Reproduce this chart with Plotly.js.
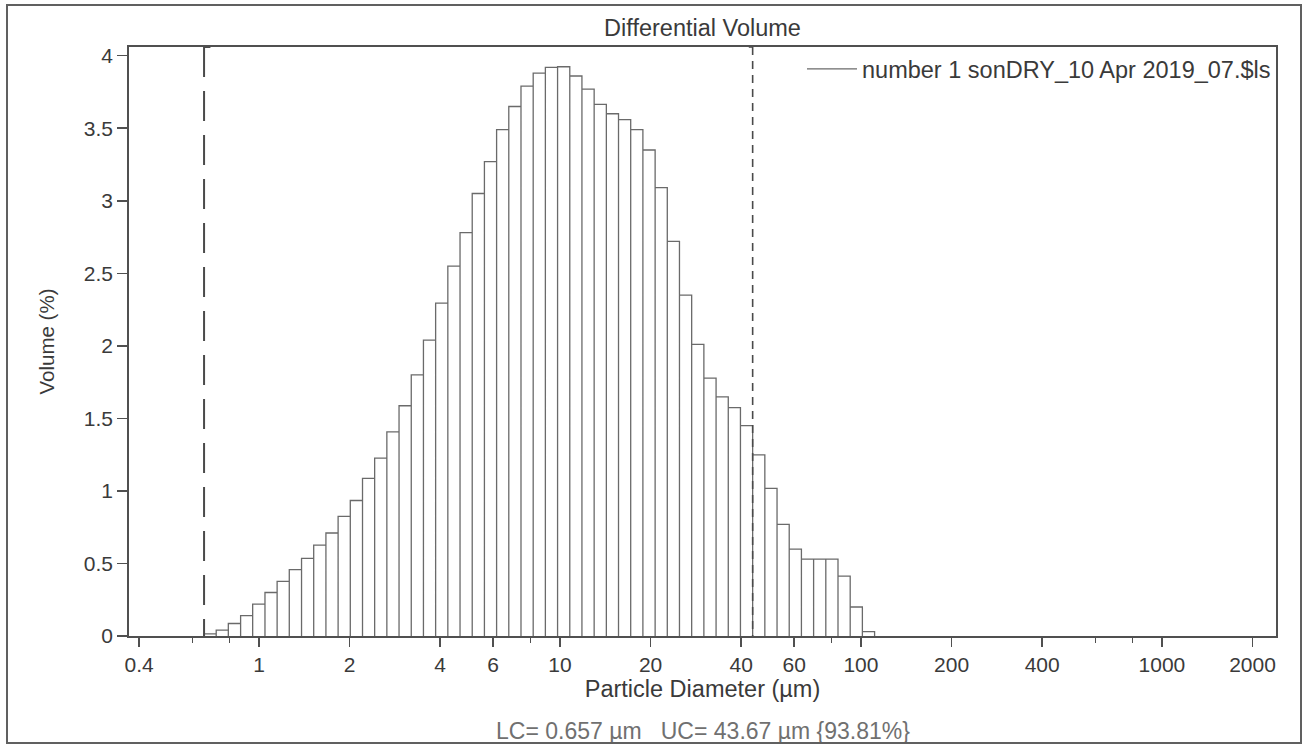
<!DOCTYPE html>
<html>
<head>
<meta charset="utf-8">
<script src="https://cdn.plot.ly/plotly-3.0.1.min.js"></script>
<style>
  html, body { margin: 0; padding: 0; background: #ffffff; }
  #wrap { position: relative; width: 1304px; height: 748px; }
  #chart { position: absolute; left: 0; top: 0; width: 1304px; height: 748px; }
  #frame { position: absolute; left: 6px; top: 4px; width: 1292px; height: 736px;
           border: 2px solid #606060; pointer-events: none; }
</style>
</head>
<body>
<div id="wrap">
  <div id="chart"></div>
  <div id="frame"></div>
</div>
<script>
// Channel edges (µm) of the particle size analyser, 92 channels from 0.375 to 2000 µm
const channelEdges = [
  0.375, 0.412, 0.452, 0.496, 0.545, 0.598, 0.657, 0.721, 0.791, 0.869, 0.953,
  1.047, 1.149, 1.261, 1.385, 1.520, 1.669, 1.832, 2.011, 2.208, 2.423, 2.660, 2.920,
  3.206, 3.519, 3.863, 4.241, 4.656, 5.111, 5.611, 6.159, 6.761, 7.422, 8.148, 8.944, 9.819,
  10.78, 11.83, 12.99, 14.26, 15.65, 17.18, 18.86, 20.71, 22.73, 24.95, 27.39, 30.07,
  33.01, 36.24, 39.78, 43.67, 47.94, 52.63, 57.77, 63.42, 69.62, 76.43, 83.90, 92.10,
  101.1, 111.0, 121.8, 133.7, 146.8, 161.2, 176.9, 194.2, 213.2, 234.1, 256.9, 282.1,
  309.6, 339.9, 373.1, 409.6, 449.7, 493.6, 541.9, 594.9, 653.0, 716.9, 786.9, 863.9,
  948.3, 1041, 1143, 1255, 1377, 1512, 1660, 1822, 2000
];

// Differential volume (%) in each channel
const volumePct = [
  0, 0, 0, 0, 0, 0,
  0.015, 0.04, 0.086, 0.14, 0.22, 0.30, 0.377, 0.458, 0.535, 0.627, 0.71, 0.824,
  0.934, 1.086, 1.226, 1.407, 1.587, 1.80, 2.04, 2.295, 2.55, 2.78, 3.05, 3.27,
  3.49, 3.65, 3.79, 3.88, 3.92, 3.924, 3.86, 3.77, 3.665, 3.60, 3.56, 3.49,
  3.35, 3.09, 2.72, 2.35, 2.01, 1.778, 1.648, 1.574, 1.45, 1.248, 1.017, 0.769,
  0.599, 0.53, 0.53, 0.53, 0.413, 0.20, 0.03,
  0, 0, 0, 0, 0, 0, 0, 0, 0, 0, 0, 0, 0, 0, 0, 0, 0, 0, 0, 0, 0, 0, 0, 0, 0, 0, 0, 0, 0, 0, 0
];

const seriesName = 'number 1 sonDRY_10 Apr 2019_07.$ls';
const lowerCut = 0.657;   // LC, µm
const upperCut = 43.67;   // UC, µm
const cutPercent = 93.81; // % between LC and UC

const xTickVals = [0.4, 1, 2, 4, 6, 10, 20, 40, 60, 100, 200, 400, 1000, 2000];
const xTickText = ['0.4', '1', '2', '4', '6', '10', '20', '40', '60', '100', '200', '400', '1000', '2000'];
const xMinorTickVals = [0.6, 0.8, 8, 80, 600, 800];
const yTickVals = [0, 0.5, 1, 1.5, 2, 2.5, 3, 3.5, 4];
const yTickText = ['0', '0.5', '1', '1.5', '2', '2.5', '3', '3.5', '4'];

// build the outlined histogram path from the channel table (non-empty channels only)
const hx = [], hy = [];
for (let i = 0; i < volumePct.length; i++) {
  const v = volumePct[i];
  if (v <= 0) continue;
  const a = channelEdges[i], b = channelEdges[i + 1];
  hx.push(a, a, b, b);
  hy.push(0, v, v, 0);
}

const yTop = 4.06;
const FONT = '"Liberation Sans", Arial, sans-serif';
const INK = '#3a3a3a';
const LINE = '#505050';

const traces = [
  {
    type: 'scatter', mode: 'lines', x: hx, y: hy, name: seriesName,
    line: { color: '#6a6a6a', width: 1.3 }, showlegend: true, hoverinfo: 'skip'
  },
  {
    type: 'scatter', mode: 'lines', x: [lowerCut, lowerCut], y: [yTop, 0],
    line: { color: '#4a4a4a', width: 2, dash: '30px,14px' }, showlegend: false, hoverinfo: 'skip'
  },
  {
    type: 'scatter', mode: 'lines', x: [lowerCut, lowerCut * 1.05], y: [yTop, yTop],
    line: { color: '#4a4a4a', width: 2 }, showlegend: false, hoverinfo: 'skip', cliponaxis: false
  },
  {
    type: 'scatter', mode: 'lines', x: [upperCut, upperCut], y: [yTop, 0],
    line: { color: '#4a4a4a', width: 1.6, dash: '8px,6px' }, showlegend: false, hoverinfo: 'skip'
  },
  {
    type: 'scatter', mode: 'lines', x: [upperCut / 1.03, upperCut], y: [yTop, yTop],
    line: { color: '#4a4a4a', width: 1.6 }, showlegend: false, hoverinfo: 'skip', cliponaxis: false
  }
];

const NB = '\u00a0';
const footText = 'LC= ' + lowerCut.toFixed(3) + ' µm' + NB + NB + NB + 'UC= ' + upperCut.toFixed(2) +
                 ' µm {' + cutPercent.toFixed(2) + '%}';

const layout = {
  width: 1304, height: 748,
  paper_bgcolor: '#ffffff', plot_bgcolor: '#ffffff',
  margin: { l: 129, r: 28, t: 47, b: 112 },
  font: { family: FONT, color: INK, size: 21 },
  title: {
    text: 'Differential Volume', font: { family: FONT, size: 23.5, color: INK },
    x: 0.5, xref: 'paper', xanchor: 'center', y: 1 - 28 / 748, yref: 'container', yanchor: 'middle'
  },
  showlegend: true,
  legend: {
    x: 1, xanchor: 'right', y: 1, yanchor: 'top', bgcolor: 'rgba(0,0,0,0)',
    font: { family: FONT, size: 23.5, color: INK }, borderwidth: 0, itemwidth: 50
  },
  xaxis: {
    type: 'log', range: [Math.log10(0.37), Math.log10(2393)],
    tickmode: 'array', tickvals: xTickVals, ticktext: xTickText,
    ticks: 'outside', ticklen: 9, tickwidth: 1.5, tickcolor: LINE,
    minor: { tickmode: 'array', tickvals: xMinorTickVals, ticks: 'outside', ticklen: 5, tickwidth: 1.2, tickcolor: LINE, showgrid: false },
    showline: true, linecolor: LINE, linewidth: 1.8, mirror: true,
    showgrid: false, zeroline: false,
    tickfont: { family: FONT, size: 21, color: INK },
    title: { text: 'Particle Diameter (µm)', font: { family: FONT, size: 23.5, color: INK }, standoff: 4 }
  },
  yaxis: {
    range: [0, yTop],
    tickmode: 'array', tickvals: yTickVals, ticktext: yTickText,
    ticks: 'outside', ticklen: 10, tickwidth: 1.5, tickcolor: LINE,
    showline: true, linecolor: LINE, linewidth: 1.8, mirror: true,
    showgrid: false, zeroline: false,
    tickfont: { family: FONT, size: 21, color: INK },
    title: { text: 'Volume (%)', font: { family: FONT, size: 20.5, color: INK }, standoff: 24 }
  },
  annotations: [
    {
      text: footText, xref: 'paper', yref: 'paper', x: 0.5, y: (636 - 731) / 589,
      xanchor: 'center', yanchor: 'middle', showarrow: false,
      font: { family: FONT, size: 23, color: '#707070' }
    }
  ]
};

Plotly.newPlot('chart', traces, layout, { displayModeBar: false, staticPlot: true });
</script>
</body>
</html>
